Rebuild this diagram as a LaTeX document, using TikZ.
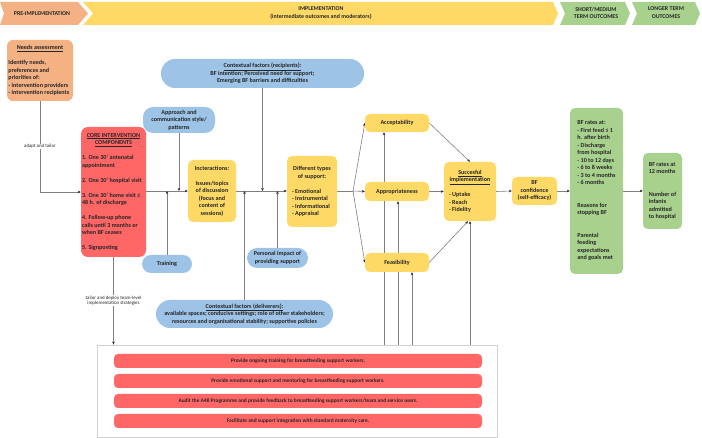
\documentclass[tikz,border=0pt]{standalone}
\usepackage{fontspec}
\setmainfont{Carlito}
\usetikzlibrary{arrows.meta,backgrounds}

\definecolor{cOrange}{RGB}{244,177,131}
\definecolor{cYellow}{RGB}{255,217,102}
\definecolor{cRed}{RGB}{255,102,102}
\definecolor{cBlue}{RGB}{157,195,230}
\definecolor{cGreen}{RGB}{169,209,142}
\definecolor{cText}{RGB}{38,38,38}
\definecolor{cLine}{RGB}{128,128,128}

% a centred heading line of given width inside a left-aligned block
\newcommand\centred[2]{\makebox[#1][c]{#2}}
\newcommand\boxfont{\fontsize{6.1}{7.5}\selectfont\bfseries}

\tikzset{
  boxbase/.style={inner sep=0pt, text=cText, font=\boxfont, align=left},
  ybox/.style={boxbase, fill=cYellow, rounded corners=5pt},
  rbox/.style={boxbase, fill=cRed, rounded corners=7pt},
  gbox/.style={boxbase, fill=cGreen, rounded corners=5pt},
  obox/.style={boxbase, fill=cOrange, rounded corners=6pt},
  bbox/.style={boxbase, fill=cBlue, align=center},
  conn/.style={draw=cLine, line width=0.6pt},
  arr/.style={conn, -{Stealth[length=3pt,width=2.6pt,color=cText]}},
  lbl/.style={fill=white, inner sep=0.6pt, text=cText, align=center,
              font=\fontsize{4.9}{5.6}\selectfont},
  taskbar/.style={fill=cRed, rounded corners=4pt, minimum width=368pt,
              minimum height=14pt, inner sep=0pt, text=cText,
              font=\fontsize{5.4}{6.5}\selectfont\bfseries},
  banner/.style={text=cText, font=\fontsize{5.9}{7.5}\selectfont\bfseries, align=center, inner sep=0pt},
}

\begin{document}
\begin{tikzpicture}[x=1pt,y=-1pt]
\useasboundingbox (0,0) rectangle (702,438);

% ---- phase banner ----
\fill[cOrange] (0,2) -- (78,2) -- (88,13.5) -- (78,25) -- (0,25) -- (4,13.5) -- cycle;
\fill[cYellow] (83,2) -- (553,2) -- (558,13.5) -- (553,25) -- (83,25) -- (93,13.5) -- cycle;
\fill[cGreen] (560,2) -- (625,2) -- (630,13.5) -- (625,25) -- (560,25) -- (565,13.5) -- cycle;
\fill[cGreen] (632,2) -- (695,2) -- (700,13.5) -- (695,25) -- (632,25) -- (637,13.5) -- cycle;
\node[banner] (hPre)   at (42,13.5)   {PRE-IMPLEMENTATION};
\node[banner] (hImpl)  at (321,12.8)  {IMPLEMENTATION\\(intermediate outcomes and moderators)};
\node[banner] (hShort) at (596,12.8)  {SHORT/MEDIUM\\TERM OUTCOMES};
\node[banner] (hLong)  at (666,12.8)  {LONGER TERM\\OUTCOMES};

% ---- pre-implementation ----
\node[obox, minimum width=66pt, minimum height=61pt] (needs) at (40,70.5)
  {\centred{63pt}{\underline{Needs assessment}}\\[7.5pt]Identify needs,\\preferences and\\priorities of:\\- intervention providers\\- intervention recipients};

\node[rbox, minimum width=65pt, minimum height=130pt] (core) at (113.5,192)
  {\centred{63pt}{\underline{CORE INTERVENTION}}\\\centred{63pt}{\underline{COMPONENTS}}\\[7.5pt]1. One 30' antenatal\\appointment\\[7.5pt]2. One 30' hospital visit\\[7.5pt]3. One 30' home visit ≤\\48 h. of discharge\\[7.5pt]4. Follow-up phone\\calls until 3 months or\\when BF ceases\\[7.5pt]5. Signposting};

% ---- moderators ----
\node[bbox, rounded corners=14pt, minimum width=203pt, minimum height=29pt] (ctxr) at (262.5,73.5)
  {\underline{Contextual factors (recipients):}\\BF intention; Perceived need for support;\\Emerging BF barriers and difficulties};
\node[bbox, rounded corners=10pt, minimum width=72pt, minimum height=26pt] (approach) at (179,120)
  {Approach and\\communication style/\\patterns};
\node[bbox, rounded corners=9pt, minimum width=50pt, minimum height=18pt] (training) at (167,264) {Training};
\node[bbox, rounded corners=10pt, minimum width=61pt, minimum height=20pt] (personal) at (277.5,258)
  {Personal impact of\\providing support};
\node[bbox, rounded corners=14pt, minimum width=177pt, minimum height=28pt] (ctxd) at (244.5,314)
  {\underline{Contextual factors (deliverers):}\\available spaces; conducive settings; role of other stakeholders;\\resources and organisational stability; supportive policies};

% ---- implementation chain ----
\node[ybox, align=center, minimum width=48pt, minimum height=62pt] (inter) at (212,191)
  {Incteractions:\\[7.5pt]Issues/topics\\of discussion\\(focus and\\content of\\sessions)};
\node[ybox, minimum width=50pt, minimum height=71pt] (diff) at (312,191.5)
  {\centred{40pt}{Different types}\\\centred{40pt}{of support:}\\[7.5pt]- Emotional\\- Instrumental\\- Informational\\- Appraisal};
\coordinate (split) at (353,191);

\node[ybox, align=center, minimum width=64pt, minimum height=18pt] (acc)  at (397,123)   {Acceptability};
\node[ybox, align=center, minimum width=64pt, minimum height=19pt] (appr) at (397,191.5) {Appropriateness};
\node[ybox, align=center, minimum width=64pt, minimum height=19pt] (feas) at (397,262.5) {Feasibility};

\node[ybox, minimum width=52pt, minimum height=59pt] (succ) at (470,191.5)
  {\centred{42pt}{\underline{Succesful}}\\\centred{42pt}{\underline{implementation}}\\[7.5pt]- Uptake\\- Reach\\- Fidelity};
\node[ybox, align=center, minimum width=45pt, minimum height=28pt] (conf) at (534.5,191)
  {BF\\confidence\\(self-efficacy)};

% ---- outcomes ----
\node[gbox, minimum width=53pt, minimum height=166pt] (rates) at (596.5,191)
  {BF rates at:\\- First feed ≤ 1\\h. after birth\\- Discharge\\from hospital\\- 10 to 12 days\\- 6 to 8 weeks\\- 3 to 4 months\\- 6 months\\[15pt]Reasons for\\stopping BF\\[15pt]Parental\\feeding\\expectations\\and goals met};
\node[gbox, minimum width=39pt, minimum height=76pt] (long) at (662.5,191)
  {BF rates at\\12 months\\[15pt]Number of\\infants\\admitted\\to hospital};

% ---- team-level implementation strategies ----
\node[draw=black!18, line width=0.8pt, fill=white, minimum width=400pt, minimum height=92pt, inner sep=0pt] (outer) at (297,391) {};
\node[taskbar] (s1) at (298,361) {Provide ongoing training for breastfeeding support workers.};
\node[taskbar] (s2) at (298,381) {Provide emotional support and mentoring for breastfeeding support workers.};
\node[taskbar] (s3) at (298,401) {Audit the A4B Programme and provide feedback to breastfeeding support workers/team and service users.};
\node[taskbar] (s4) at (298,421) {Facilitate and support integration with standard maternity care.};

% feet of the vertical connectors rising from the strategies panel
\path ([xshift=-13pt]acc.south) coordinate (vA)
      ([xshift=1pt]appr.south)  coordinate (vB)
      ([xshift=15pt]feas.south) coordinate (vC)
      (succ.south)              coordinate (vD);

% ---- connectors ----
\begin{scope}[on background layer]
  \draw[arr] (needs.south) -- node[lbl] {adapt and tailor} (needs.south |- core.west) -- (core.west);
  \draw[arr] (core.east |- inter.west) -- (inter.west);
  \draw[arr] (approach.south) -- (approach.south |- inter.west);
  \draw[arr] (training.north) -- (training.north |- inter.west);
  \draw[arr] (inter.east) -- (diff.west |- inter.east);
  \draw[arr] (ctxr.south) -- (ctxr.south |- inter.east);
  \draw[arr] (ctxd.north) -- (ctxd.north |- inter.east);
  \draw[arr] (personal.north) -- (personal.north |- inter.east);
  \draw[conn] (diff.east |- split) -- (split);
  \draw[arr] (split) -- (acc.west);
  \draw[arr] (split) -- (appr.west);
  \draw[arr] (split) -- (feas.west);
  \draw[arr] (acc.east) -- (succ.north);
  \draw[arr] (appr.east) -- (succ.west);
  \draw[arr] (feas.east) -- ([xshift=-2pt]succ.south);
  \draw[arr] (succ.east) -- (conf.west);
  \draw[arr] (conf.east) -- (rates.west);
  \draw[arr] (rates.east) -- (long.west);
  \draw[arr] (core.south) -- node[lbl] {tailor and deploy team-level\\implementation strategies} (core.south |- outer.north);
  \draw[arr] (vA |- outer.north) -- (vA);
  \draw[arr] (vB |- outer.north) -- (vB);
  \draw[arr] (vC |- outer.north) -- (vC);
  \draw[arr] (vD |- outer.north) -- (vD);
\end{scope}
\end{tikzpicture}
\end{document}
